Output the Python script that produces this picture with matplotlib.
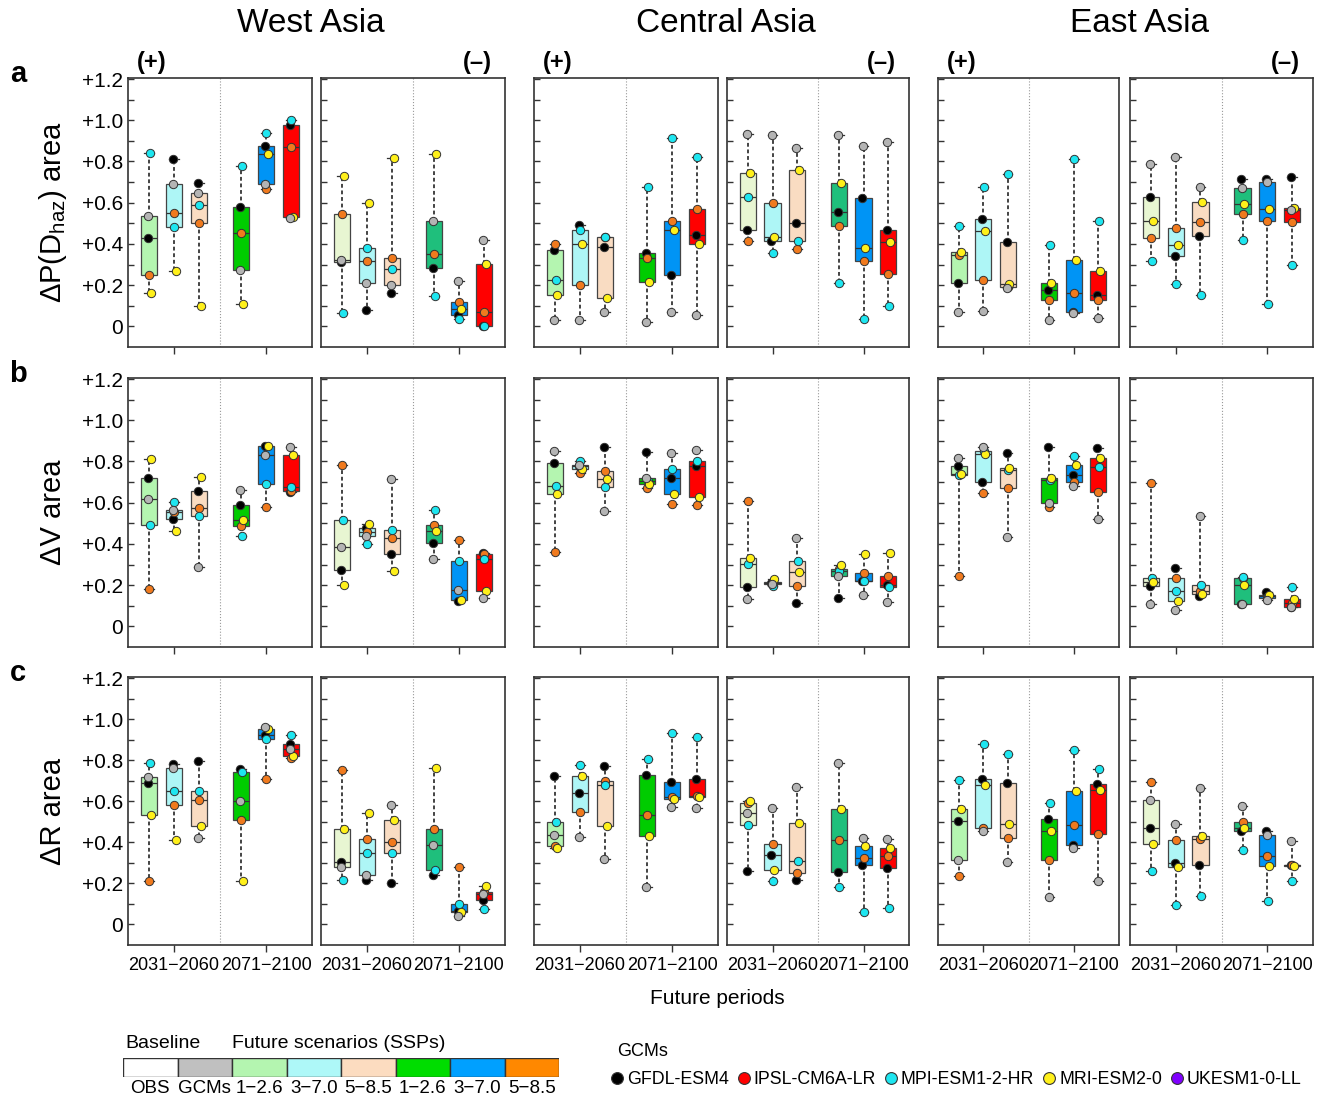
import numpy as np
import matplotlib
matplotlib.use('Agg')
import matplotlib.pyplot as plt
from matplotlib.lines import Line2D

plt.rcParams['font.family'] = ['Liberation Sans', 'DejaVu Sans']
plt.rcParams['mathtext.default'] = 'regular'

# ---- data: each box = [GFDL, IPSL, MPI, MRI, UKESM]
# order of boxes: 2031-2060 (SSP1-2.6, 3-7.0, 5-8.5), 2071-2100 (same)
pd_west_pos = [[0.43, 0.25, 0.84, 0.16, 0.535], [0.81, 0.55, 0.48, 0.27, 0.69],
               [0.695, 0.50, 0.59, 0.10, 0.645], [0.58, 0.455, 0.78, 0.11, 0.275],
               [0.875, 0.665, 0.94, 0.835, 0.69], [0.975, 0.87, 1.0, 0.53, 0.525]]
pd_west_neg = [[0.31, 0.545, 0.065, 0.73, 0.32], [0.08, 0.315, 0.38, 0.60, 0.21],
               [0.16, 0.33, 0.28, 0.815, 0.20], [0.285, 0.35, 0.145, 0.835, 0.51],
               [0.055, 0.12, 0.035, 0.085, 0.22], [0.0, 0.07, 0.0, 0.305, 0.42]]
pd_central_pos = [[0.37, 0.40, 0.225, 0.15, 0.03], [0.49, 0.20, 0.47, 0.40, 0.03],
                  [0.385, 0.435, 0.435, 0.14, 0.07], [0.355, 0.33, 0.675, 0.215, 0.02],
                  [0.25, 0.51, 0.915, 0.47, 0.07], [0.445, 0.57, 0.82, 0.40, 0.055]]
pd_central_neg = [[0.47, 0.415, 0.63, 0.745, 0.935], [0.415, 0.60, 0.355, 0.435, 0.93],
                  [0.50, 0.375, 0.415, 0.76, 0.865], [0.555, 0.485, 0.21, 0.695, 0.93],
                  [0.625, 0.315, 0.035, 0.38, 0.875], [0.47, 0.255, 0.10, 0.41, 0.895]]
pd_east_pos = [[0.21, 0.345, 0.485, 0.36, 0.07], [0.52, 0.225, 0.675, 0.465, 0.075],
               [0.41, 0.19, 0.74, 0.205, 0.185], [0.175, 0.13, 0.395, 0.21, 0.03],
               [0.07, 0.16, 0.81, 0.32, 0.065], [0.15, 0.13, 0.51, 0.27, 0.04]]
pd_east_neg = [[0.63, 0.43, 0.315, 0.51, 0.79], [0.34, 0.475, 0.205, 0.395, 0.82],
               [0.44, 0.505, 0.15, 0.605, 0.675], [0.715, 0.545, 0.42, 0.595, 0.67],
               [0.715, 0.51, 0.11, 0.57, 0.70], [0.725, 0.505, 0.30, 0.575, 0.565]]

v_west_pos = [[0.72, 0.18, 0.49, 0.81, 0.62], [0.52, 0.555, 0.605, 0.465, 0.565],
              [0.655, 0.575, 0.535, 0.725, 0.29], [0.59, 0.485, 0.44, 0.515, 0.66],
              [0.875, 0.58, 0.69, 0.875, 0.83], [0.65, 0.655, 0.675, 0.83, 0.87]]
v_west_neg = [[0.275, 0.785, 0.515, 0.20, 0.385], [0.475, 0.46, 0.40, 0.495, 0.44],
              [0.35, 0.43, 0.47, 0.27, 0.715], [0.405, 0.49, 0.565, 0.465, 0.325],
              [0.125, 0.42, 0.315, 0.13, 0.175], [0.355, 0.35, 0.325, 0.17, 0.14]]
v_central_pos = [[0.795, 0.36, 0.68, 0.64, 0.85], [0.78, 0.745, 0.80, 0.765, 0.785],
                 [0.87, 0.755, 0.675, 0.715, 0.56], [0.845, 0.67, 0.705, 0.69, 0.72],
                 [0.72, 0.595, 0.765, 0.64, 0.84], [0.78, 0.59, 0.80, 0.63, 0.855]]
v_central_neg = [[0.19, 0.61, 0.305, 0.33, 0.135], [0.21, 0.215, 0.195, 0.23, 0.205],
                 [0.115, 0.195, 0.315, 0.265, 0.43], [0.14, 0.28, 0.27, 0.30, 0.245],
                 [0.22, 0.26, 0.22, 0.35, 0.15], [0.20, 0.245, 0.19, 0.355, 0.12]]
v_east_pos = [[0.78, 0.245, 0.735, 0.74, 0.815], [0.70, 0.645, 0.85, 0.835, 0.87],
              [0.84, 0.67, 0.76, 0.77, 0.435], [0.87, 0.58, 0.71, 0.72, 0.60],
              [0.735, 0.70, 0.825, 0.785, 0.68], [0.865, 0.65, 0.775, 0.815, 0.52]]
v_east_neg = [[0.195, 0.695, 0.235, 0.215, 0.11], [0.285, 0.235, 0.17, 0.125, 0.08],
              [0.145, 0.17, 0.20, 0.155, 0.535], [0.11, 0.235, 0.24, 0.20, 0.11],
              [0.165, 0.14, 0.145, 0.15, 0.13], [0.095, 0.115, 0.19, 0.135, 0.095]]

r_west_pos = [[0.69, 0.21, 0.785, 0.535, 0.72], [0.78, 0.58, 0.65, 0.41, 0.76],
              [0.795, 0.605, 0.65, 0.48, 0.42], [0.755, 0.51, 0.74, 0.21, 0.60],
              [0.925, 0.71, 0.905, 0.95, 0.96], [0.88, 0.81, 0.925, 0.82, 0.855]]
r_west_neg = [[0.305, 0.75, 0.215, 0.465, 0.28], [0.215, 0.415, 0.35, 0.545, 0.24],
              [0.20, 0.40, 0.35, 0.51, 0.58], [0.24, 0.465, 0.265, 0.76, 0.385],
              [0.065, 0.28, 0.10, 0.06, 0.04], [0.12, 0.16, 0.075, 0.185, 0.15]]
r_central_pos = [[0.725, 0.38, 0.50, 0.37, 0.435], [0.64, 0.55, 0.775, 0.725, 0.425],
                 [0.77, 0.70, 0.68, 0.48, 0.32], [0.73, 0.535, 0.805, 0.43, 0.18],
                 [0.695, 0.62, 0.93, 0.61, 0.57], [0.71, 0.625, 0.915, 0.62, 0.565]]
r_central_neg = [[0.26, 0.59, 0.485, 0.60, 0.545], [0.34, 0.39, 0.21, 0.265, 0.565],
                 [0.215, 0.25, 0.31, 0.495, 0.67], [0.255, 0.41, 0.18, 0.56, 0.785],
                 [0.29, 0.325, 0.06, 0.38, 0.42], [0.275, 0.335, 0.08, 0.37, 0.415]]
r_east_pos = [[0.505, 0.235, 0.705, 0.56, 0.315], [0.71, 0.47, 0.88, 0.68, 0.455],
              [0.69, 0.42, 0.83, 0.49, 0.305], [0.515, 0.315, 0.59, 0.455, 0.135],
              [0.385, 0.485, 0.85, 0.65, 0.37], [0.685, 0.44, 0.755, 0.655, 0.21]]
r_east_neg = [[0.47, 0.695, 0.26, 0.39, 0.605], [0.30, 0.41, 0.095, 0.28, 0.49],
              [0.29, 0.415, 0.14, 0.43, 0.665], [0.455, 0.50, 0.365, 0.47, 0.575],
              [0.455, 0.335, 0.115, 0.285, 0.435], [0.29, 0.29, 0.21, 0.285, 0.405]]

regions = ['West Asia', 'Central Asia', 'East Asia']
row_letters = ['a', 'b', 'c']
row_labels = ['\u0394P(D$_{haz}$) area', '\u0394V area', '\u0394R area']
periods = ['2031\u22122060', '2071\u22122100']
ytick_vals = [0, 0.2, 0.4, 0.6, 0.8, 1.0, 1.2]
ytick_labels = ['0', '+0.2', '+0.4', '+0.6', '+0.8', '+1.0', '+1.2']
gcm_names = ['GFDL-ESM4', 'IPSL-CM6A-LR', 'MPI-ESM1-2-HR', 'MRI-ESM2-0', 'UKESM1-0-LL']
legend_labels = ['OBS', 'GCMs', '1\u22122.6', '3\u22127.0', '5\u22128.5',
                 '1\u22122.6', '3\u22127.0', '5\u22128.5']

panels = [[pd_west_pos, pd_west_neg, pd_central_pos, pd_central_neg, pd_east_pos, pd_east_neg],
          [v_west_pos, v_west_neg, v_central_pos, v_central_neg, v_east_pos, v_east_neg],
          [r_west_pos, r_west_neg, r_central_pos, r_central_neg, r_east_pos, r_east_neg]]

# ---- styles
pt_colors = ['#000000', '#f07a1e', '#1ee6f0', '#fff01a', '#b4b4b4']
pt_dx = [-0.05, 0.0, 0.02, 0.08, -0.03]
box_pos_colors = ['#b4f5b0', '#aef6f6', '#f9dcc2', '#00cc00', '#0094f5', '#ff0000']
box_neg_colors = ['#e8f6d2', '#aef6f6', '#f9dcc2', '#1fbf7c', '#0094f5', '#ff0000']
bar_colors = ['#ffffff', '#c0c0c0', '#b4f5b0', '#aef8f8', '#fcdcc0', '#00dd00', '#00a0ff', '#ff8800']
leg_colors = ['#000000', '#ff0000', '#1ee6f0', '#fff01a', '#8000ff']

W, H = 1327, 1100
fig = plt.figure(figsize=(W / 100, H / 100), dpi=100)

def px_axes(l, t, r, b):
    return fig.add_axes([l / W, 1 - b / H, (r - l) / W, (b - t) / H])

cols_px = [(128, 312), (321, 505), (534, 718), (727, 909), (938, 1119), (1130, 1313)]
rows_px = [(78, 347), (378, 647), (677, 945)]
centers = [2.0, 6.0]
positions = [c + d for c in centers for d in (-1.08, 0.0, 1.08)]

for i, (t, b) in enumerate(rows_px):
    for j, (l, r) in enumerate(cols_px):
        ax = px_axes(l, t, r, b)
        data = panels[i][j]
        colors = box_pos_colors if j % 2 == 0 else box_neg_colors
        bp = ax.boxplot(data, positions=positions, widths=0.72, whis=(0, 100),
                        showfliers=False, patch_artist=True, capwidths=0.42,
                        boxprops=dict(edgecolor='#444444', linewidth=0.9),
                        medianprops=dict(color='#333333', linewidth=0.9),
                        whiskerprops=dict(color='#111111', linewidth=1.1, linestyle=(0, (2.5, 1.8))),
                        capprops=dict(color='#333333', linewidth=0.9))
        for patch, c in zip(bp['boxes'], colors):
            patch.set_facecolor(c)
        for p, vals in zip(positions, data):
            for k, v in enumerate(vals):
                ax.plot(p + pt_dx[k], v, 'o', ms=6, mfc=pt_colors[k], mec='#333333',
                        mew=0.7, zorder=4)
        ax.axvline(4, color='#999999', lw=0.8, ls=':')
        ax.set_xlim(0, 8)
        ax.set_ylim(-0.1, 1.205)
        ax.set_yticks(ytick_vals)
        ax.set_yticks(np.arange(0, 1.21, 0.1), minor=True)
        ax.tick_params(axis='y', which='both', direction='in', length=4, width=1, color='#333333')
        if j == 0:
            ax.set_yticklabels(ytick_labels, fontsize=15)
        else:
            ax.set_yticklabels([])
        ax.set_xticks(centers)
        ax.tick_params(axis='x', direction='out', length=5, width=1, color='#333333')
        if i == 2:
            ax.set_xticklabels(periods, fontsize=13)
        else:
            ax.set_xticklabels([])
        for s in ax.spines.values():
            s.set_color('#333333')
            s.set_linewidth(1.2)
        if i == 0:
            if j % 2 == 0:
                fig.text((l + 24) / W, 1 - 62 / H, '(+)', fontsize=17, fontweight='bold',
                         ha='center', va='center')
            else:
                fig.text((r - 28) / W, 1 - 62 / H, '(\u2013)', fontsize=17, fontweight='bold',
                         ha='center', va='center')
    fig.text(18 / W, 1 - (t - 4) / H, row_letters[i], fontsize=21, fontweight='bold',
             ha='center', va='center')
    fig.text(53 / W, 1 - (t + b) / 2 / H, row_labels[i], fontsize=21, rotation=90,
             ha='center', va='center')

for name, x in zip(regions, [311, 726, 1139]):
    fig.text(x / W, 1 - 24 / H, name, fontsize=24, ha='center', va='center')

fig.text(717 / W, 1 - 998 / H, 'Future periods', fontsize=15, ha='center', va='center')

# ---- colour legend
lax = px_axes(123, 1058, 559, 1077)
lax.bar(np.arange(8), [1] * 8, width=1, color=bar_colors, edgecolor='#333333', linewidth=1)
lax.set_xlim(-0.5, 7.5)
lax.set_ylim(0, 1)
lax.set_yticks([])
lax.set_xticks(np.arange(8))
lax.set_xticklabels(legend_labels, fontsize=13.5)
lax.tick_params(axis='x', length=0, pad=2)
for s in lax.spines.values():
    s.set_visible(False)
fig.text(125 / W, 1 - 1044 / H, 'Baseline', fontsize=14, ha='left', va='center')
fig.text(232 / W, 1 - 1044 / H, 'Future scenarios (SSPs)', fontsize=14, ha='left', va='center')

# ---- GCM legend
fig.text(617 / W, 1 - 1052 / H, 'GCMs', fontsize=13, ha='left', va='center')
handles = [Line2D([], [], marker='o', ls='none', ms=8.5, mfc=c, mec='#333333', mew=0.8)
           for c in leg_colors]
fig.legend(handles, gcm_names, loc='center left', bbox_to_anchor=(610 / W, 1 - 1080 / H),
           ncol=5, frameon=False, fontsize=12.8, handlelength=0.8, handletextpad=0.15,
           columnspacing=0.45, borderpad=0, borderaxespad=0)

fig.savefig('out.png', dpi=100)
